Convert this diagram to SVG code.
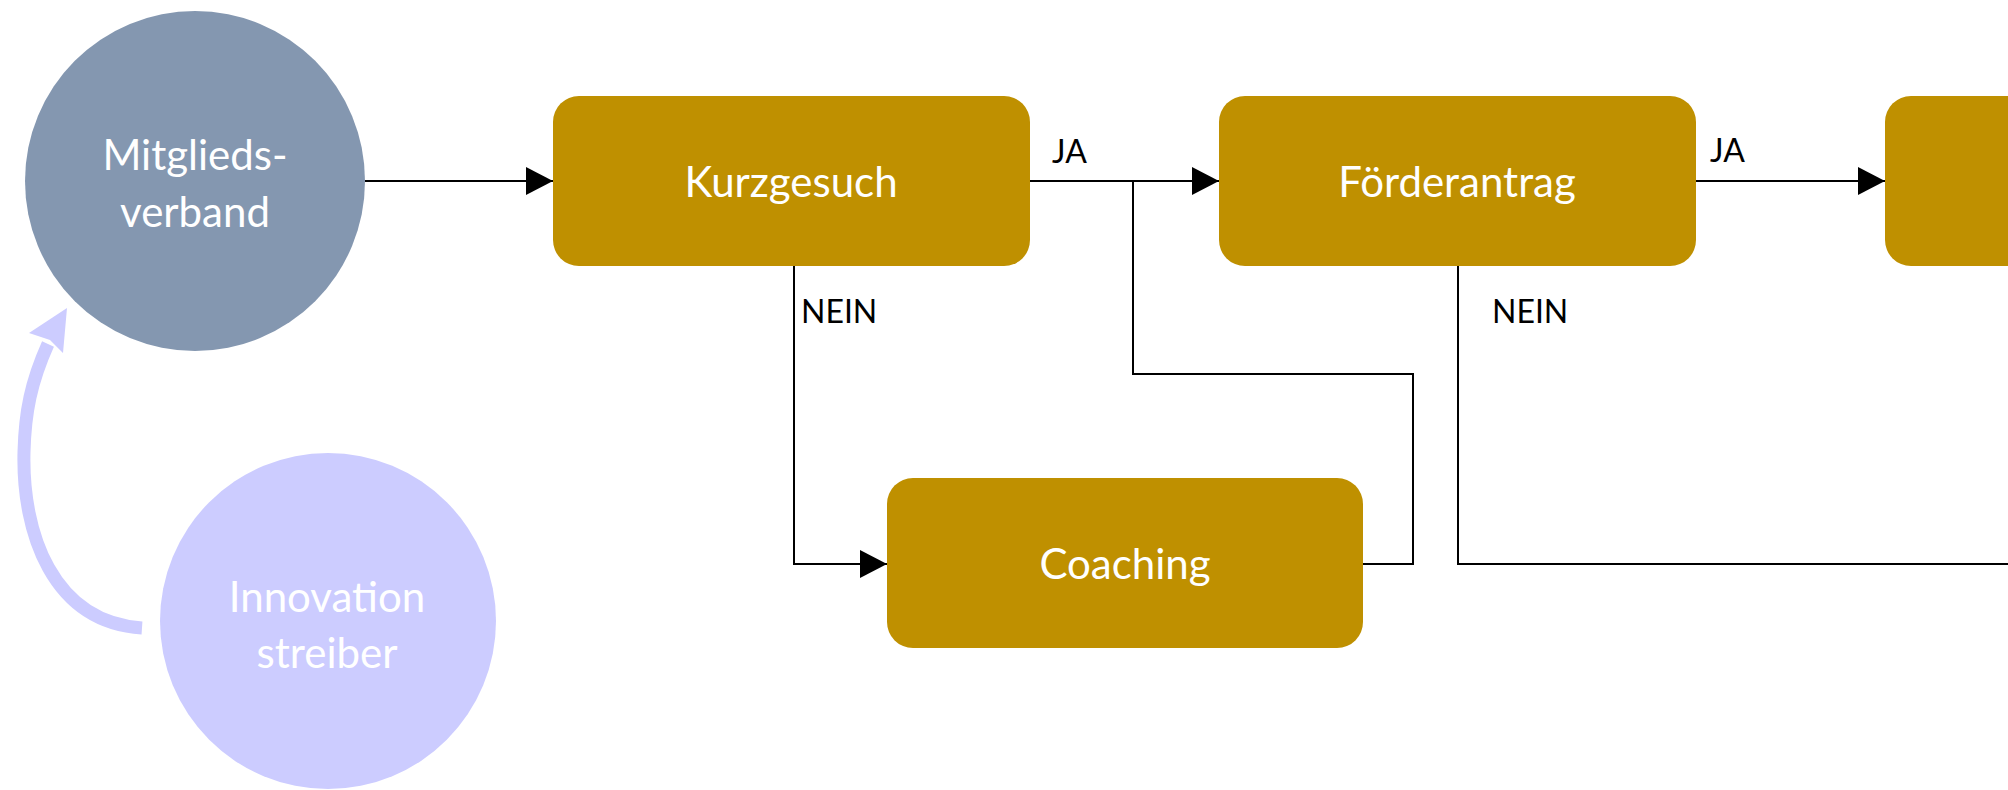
<svg xmlns="http://www.w3.org/2000/svg" width="2008" height="790" viewBox="0 0 2008 790">
  <defs>
    <style>
      .box { fill: #BF9000; }
      .lbl { font-family: Lato, "Liberation Sans", sans-serif; font-size: 42px; fill: #FFFFFF; text-anchor: middle; }
      .small { font-family: Lato, "Liberation Sans", sans-serif; font-size: 32px; fill: #000000; }
      .conn { fill: none; stroke: #000000; stroke-width: 2; }
    </style>
    <marker id="arr" markerWidth="28" markerHeight="28" refX="27" refY="14" orient="auto" markerUnits="userSpaceOnUse">
      <path d="M0,0 L27,14 L0,28 Z" fill="#000000"/>
    </marker>
  </defs>
  <rect width="2008" height="790" fill="#FFFFFF"/>

  <g id="connectors">
    <path class="conn" d="M365,181 H553" marker-end="url(#arr)"/>
    <path class="conn" d="M1030,181 H1219" marker-end="url(#arr)"/>
    <path class="conn" d="M1696,181 H1885" marker-end="url(#arr)"/>
    <path class="conn" d="M794,266 V564 H887" marker-end="url(#arr)"/>
    <path class="conn" d="M1363,564 H1413 V374 H1133 V181"/>
    <path class="conn" d="M1458,266 V564 H2010"/>
    <path d="M142,628 C52,622 22,532 24,452 C25,412 31,382 48,344" fill="none" stroke="#CCCCFF" stroke-width="13"/>
    <polygon points="67,308 63,353 50,340 29,333" fill="#CCCCFF"/>
    <text class="small" x="1052" y="163">JA</text>
    <text class="small" x="1710" y="162">JA</text>
    <text class="small" x="801" y="323">NEIN</text>
    <text class="small" x="1492" y="323">NEIN</text>
  </g>

  <g id="mitgliedsverband">
    <circle cx="195" cy="181" r="170" fill="#8497B0"/>
    <text class="lbl" x="195" y="170">Mitglieds-</text>
    <text class="lbl" x="195" y="227">verband</text>
  </g>

  <g id="innovationstreiber">
    <circle cx="328" cy="621" r="168" fill="#CCCCFF"/>
    <text class="lbl" x="327" y="612">Innovation</text>
    <text class="lbl" x="327" y="668">streiber</text>
  </g>

  <g id="kurzgesuch">
    <rect class="box" x="553" y="96" width="477" height="170" rx="26" ry="26"/>
    <text class="lbl" x="791" y="197">Kurzgesuch</text>
  </g>

  <g id="foerderantrag">
    <rect class="box" x="1219" y="96" width="477" height="170" rx="26" ry="26"/>
    <text class="lbl" x="1457" y="197">Förderantrag</text>
  </g>

  <g id="next-step">
    <rect class="box" x="1885" y="96" width="477" height="170" rx="26" ry="26"/>
  </g>

  <g id="coaching">
    <rect class="box" x="887" y="478" width="476" height="170" rx="26" ry="26"/>
    <text class="lbl" x="1125" y="579">Coaching</text>
  </g>
</svg>
